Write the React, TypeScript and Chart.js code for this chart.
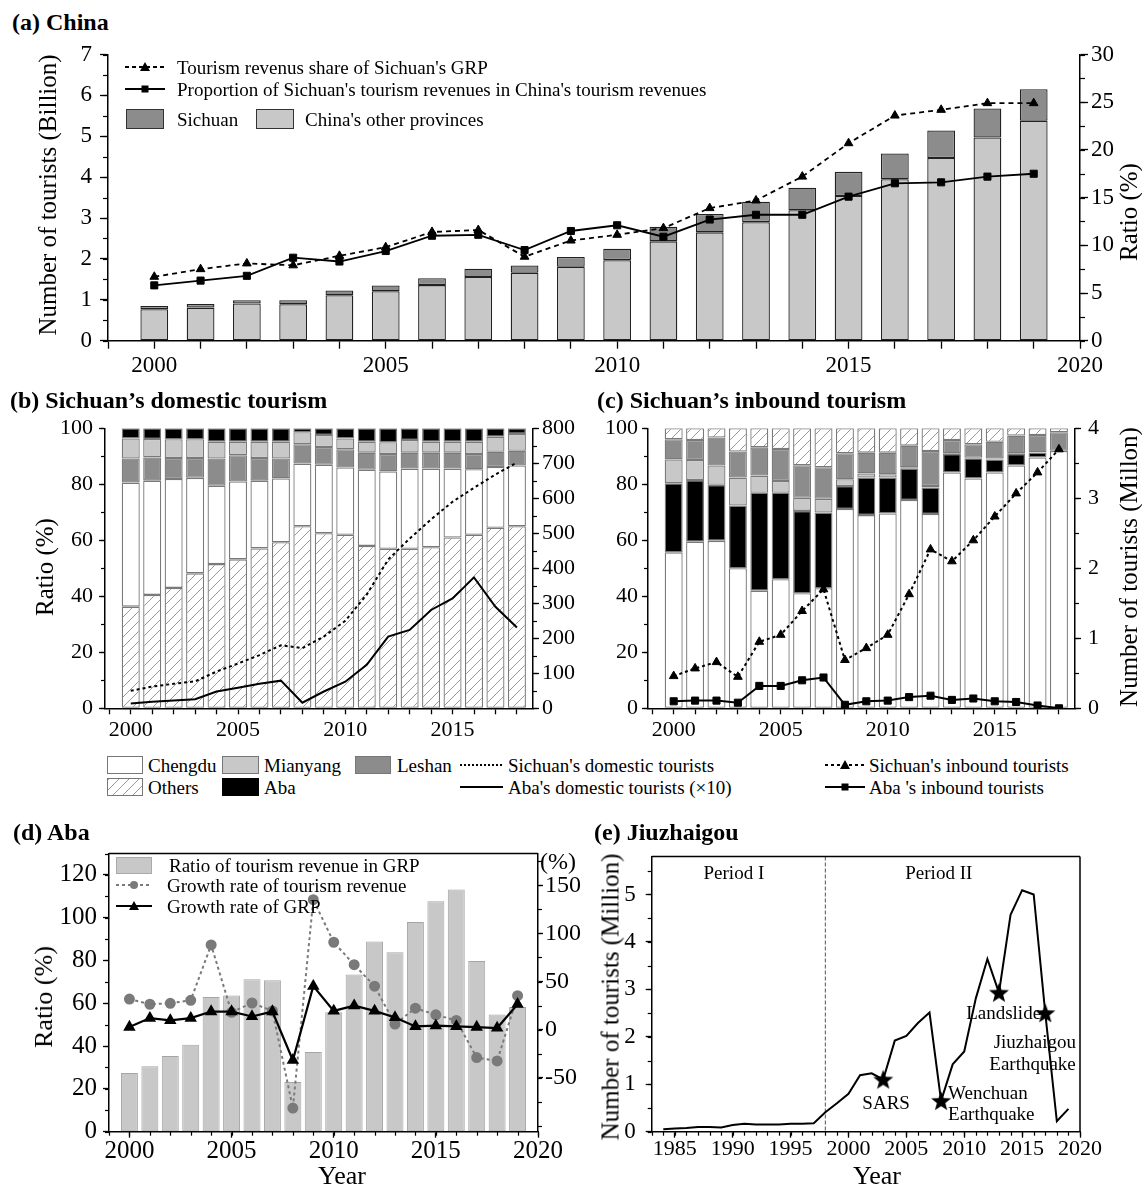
import React, { useEffect, useRef } from 'react';
import { Chart, registerables } from 'chart.js';

Chart.register(...registerables);

const FONT = "'Liberation Serif', 'Times New Roman', Times, serif";

// ---------------- (a) China ----------------
const yearsA = [2000, 2001, 2002, 2003, 2004, 2005, 2006, 2007, 2008, 2009, 2010, 2011, 2012, 2013, 2014, 2015, 2016, 2017, 2018, 2019];
const otherProvincesTourists = [0.77, 0.81, 0.91, 0.89, 1.11, 1.21, 1.36, 1.56, 1.66, 1.81, 1.97, 2.43, 2.65, 2.9, 3.19, 3.54, 3.95, 4.47, 4.97, 5.38];
const sichuanTourists = [0.08, 0.09, 0.08, 0.1, 0.12, 0.14, 0.17, 0.2, 0.18, 0.24, 0.28, 0.36, 0.45, 0.5, 0.55, 0.59, 0.63, 0.67, 0.71, 0.77];
const revenueShareOfGRP = [6.7, 7.5, 8.1, 7.9, 8.9, 9.8, 11.4, 11.6, 8.8, 10.5, 11.1, 11.8, 13.9, 14.7, 17.2, 20.7, 23.6, 24.2, 24.9, 24.9];
const shareOfChinaRevenue = [5.8, 6.3, 6.8, 8.7, 8.3, 9.4, 11.0, 11.1, 9.5, 11.5, 12.1, 10.9, 12.7, 13.2, 13.2, 15.1, 16.5, 16.6, 17.2, 17.5];

// ---------------- (b) Sichuan's domestic tourism ----------------
const yearsBC = [2000, 2001, 2002, 2003, 2004, 2005, 2006, 2007, 2008, 2009, 2010, 2011, 2012, 2013, 2014, 2015, 2016, 2017, 2018];
const domOthers = [36.3, 40.5, 43.0, 48.2, 51.5, 53.2, 57.1, 59.3, 65.0, 62.5, 62.0, 58.0, 57.0, 57.0, 57.5, 61.0, 62.0, 64.5, 65.0];
const domChengdu = [44.3, 40.8, 38.9, 34.1, 28.0, 27.8, 24.2, 22.8, 22.4, 24.5, 24.0, 27.2, 27.6, 28.6, 28.1, 24.6, 23.4, 21.7, 21.7];
const domLeshan = [8.6, 8.3, 7.5, 7.1, 9.7, 9.4, 8.1, 7.1, 6.9, 6.3, 6.5, 6.1, 6.2, 5.7, 5.7, 5.7, 5.4, 5.4, 5.3];
const domMianyang = [7.2, 6.6, 6.7, 6.7, 6.0, 4.8, 5.8, 6.0, 4.3, 4.3, 3.9, 3.9, 4.2, 4.5, 3.9, 3.9, 4.4, 5.4, 6.0];
const domAba = [3.6, 3.8, 3.9, 3.9, 4.8, 4.8, 4.8, 4.8, 1.4, 2.4, 3.6, 4.8, 5.0, 4.2, 4.8, 4.8, 4.8, 3.0, 2.0];
const sichuanDomesticTourists = [50, 62, 70, 77, 105, 128, 152, 180, 172, 205, 250, 325, 425, 485, 540, 590, 630, 668, 702];
const abaDomesticTouristsX10 = [14, 19, 22, 26, 48, 59, 70, 79, 16, 48, 76, 124, 205, 224, 281, 314, 374, 290, 231];

// ---------------- (c) Sichuan's inbound tourism ----------------
const inbChengdu = [55.7, 59.5, 59.8, 50.0, 42.0, 46.1, 41.1, 42.9, 71.2, 69.0, 69.6, 74.4, 69.4, 84.2, 82.1, 84.2, 86.7, 89.6, 91.9];
const inbAba = [24.7, 22.0, 20.0, 22.4, 35.0, 30.9, 29.4, 27.0, 8.2, 13.4, 12.8, 11.3, 9.5, 6.6, 7.2, 4.7, 4.1, 1.7, 0.1];
const inbMianyang = [8.5, 7.2, 6.9, 10.0, 6.1, 4.2, 4.7, 4.9, 2.4, 1.5, 1.2, 0.4, 0.5, 0.3, 0.2, 0.3, 0.3, 0.1, 0];
const inbLeshan = [7.2, 7.1, 10.0, 9.3, 10.1, 11.4, 11.6, 11.3, 9.3, 7.4, 7.7, 7.7, 12.5, 4.7, 4.8, 6.0, 6.3, 6.2, 6.6];
const inbOthers = [3.9, 4.2, 3.3, 8.3, 6.8, 7.4, 13.2, 13.9, 8.9, 8.7, 8.7, 6.2, 8.1, 4.2, 5.7, 4.8, 2.6, 2.4, 1.4];
const sichuanInboundTourists = [0.46, 0.57, 0.66, 0.45, 0.95, 1.05, 1.39, 1.7, 0.69, 0.86, 1.05, 1.63, 2.27, 2.1, 2.4, 2.74, 3.07, 3.37, 3.7];
const abaInboundTourists = [0.1, 0.11, 0.11, 0.08, 0.32, 0.32, 0.4, 0.44, 0.05, 0.1, 0.11, 0.16, 0.18, 0.12, 0.14, 0.1, 0.09, 0.04, 0.0];

// ---------------- (d) Aba ----------------
const yearsD = [2000, 2001, 2002, 2003, 2004, 2005, 2006, 2007, 2008, 2009, 2010, 2011, 2012, 2013, 2014, 2015, 2016, 2017, 2018, 2019];
const abaRevenueRatioGRP = [27.4, 30.6, 35.4, 40.6, 62.9, 63.7, 71.2, 70.8, 23.2, 37.2, 55.8, 73.5, 88.9, 83.8, 98.0, 107.7, 113.2, 79.8, 54.8, 58.3];
const abaRevenueGrowth = [31.8, 26.4, 27.4, 30.5, 88, 18, 27.7, 19.5, -81.5, 135, 90.8, 67.5, 45.2, 5.8, 22.3, 15.4, 9.6, -29, -32.5, 35.3];
const abaGRPGrowth = [2.7, 12, 9.6, 12, 18.8, 18.8, 13.7, 18.8, -31.8, 45.2, 19.5, 25, 19.5, 12.7, 3.4, 4.1, 3.4, 2.7, 1.7, 26.4];

// ---------------- (e) Jiuzhaigou ----------------
const yearsE = [1984, 1985, 1986, 1987, 1988, 1989, 1990, 1991, 1992, 1993, 1994, 1995, 1996, 1997, 1998, 1999, 2000, 2001, 2002, 2003, 2004, 2005, 2006, 2007, 2008, 2009, 2010, 2011, 2012, 2013, 2014, 2015, 2016, 2017, 2018, 2019];
const jiuzhaigouTourists = [0.05, 0.07, 0.08, 0.1, 0.1, 0.09, 0.14, 0.17, 0.15, 0.15, 0.15, 0.17, 0.17, 0.18, 0.41, 0.6, 0.8, 1.19, 1.23, 1.1, 1.92, 2.02, 2.29, 2.51, 0.65, 1.42, 1.69, 2.81, 3.64, 2.93, 4.57, 5.09, 5.0, 2.5, 0.22, 0.48];
const eventYears = [2003, 2008, 2013, 2017];
const periodSplitYear = 1998;
const jiuzhaigouNotes = [
  { text: 'Period I', x: 1990.1, y: 5.44, align: 'center' },
  { text: 'Period II', x: 2007.8, y: 5.44, align: 'center' },
  { text: 'SARS', x: 2003.25, y: 0.58, align: 'center' },
  { text: 'Wenchuan', x: 2008.6, y: 0.8, align: 'left' },
  { text: 'Earthquake', x: 2008.6, y: 0.36, align: 'left' },
  { text: 'Landslide', x: 2013.4, y: 2.47, align: 'center' },
  { text: 'Jiuzhaigou', x: 2016.1, y: 1.87, align: 'center' },
  { text: 'Earthquake', x: 2015.9, y: 1.4, align: 'center' },
];

// ---------------- helpers ----------------
const pts = (xs: number[], ys: number[]) => xs.map((x, i) => ({ x, y: ys[i] }));

const stepTicks = (step: number, from?: number, to?: number) => (scale: any) => {
  const out: any[] = [];
  const start = from !== undefined ? from : Math.ceil(scale.min / step - 1e-6) * step;
  const end = to !== undefined ? to : scale.max;
  for (let v = start; v <= end + 1e-6; v += step) out.push({ value: Math.round(v * 1e4) / 1e4 });
  scale.ticks = out;
};
const every = (n: number) => (v: any) => {
  const r = v / n;
  return Math.abs(r - Math.round(r)) < 1e-6 ? String(Math.round(v * 1000) / 1000) : '';
};
const fixedW = (w: number) => (s: any) => { s.width = w; };
const fixedH = (h: number) => (s: any) => { s.height = h; };
const axisBorder = { display: true, color: '#000', width: 1.5 };
const tickGrid = (len: number) => ({
  display: true, drawOnChartArea: false, drawTicks: true, tickLength: len,
  color: '#000', tickColor: '#000', tickWidth: 1.3, offset: false,
});
const tickFont = (size: number) => ({ family: FONT, size, lineHeight: 1 });

const baseOptions = (padding: any) => ({
  animation: false,
  responsive: false,
  maintainAspectRatio: false,
  devicePixelRatio: 1,
  events: [],
  layout: { padding },
});
const basePlugins = { legend: { display: false }, tooltip: { enabled: false } };

// minor tick marks drawn through the scales
const minorTicksPlugin = {
  id: 'minorTicks',
  afterDraw(chart: any, _a: any, opts: any) {
    const ctx = chart.ctx;
    Object.keys(opts || {}).forEach((id) => {
      const cfg = opts[id];
      const s = chart.scales[id];
      if (!s || !cfg || !cfg.step) return;
      ctx.save();
      ctx.strokeStyle = '#000';
      ctx.lineWidth = 1.2;
      const start = Math.ceil(s.min / cfg.step - 1e-6) * cfg.step;
      for (let v = start; v <= s.max + 1e-6; v += cfg.step) {
        const p = Math.round(s.getPixelForValue(v)) + 0.5;
        ctx.beginPath();
        if (s.isHorizontal()) {
          ctx.moveTo(p, s.top);
          ctx.lineTo(p, s.top + cfg.len);
        } else if (s.position === 'left') {
          ctx.moveTo(s.right, p);
          ctx.lineTo(s.right - cfg.len, p);
        } else {
          ctx.moveTo(s.left, p);
          ctx.lineTo(s.left + cfg.len, p);
        }
        ctx.stroke();
      }
      ctx.restore();
    });
  },
};

const framePlugin = {
  id: 'frame',
  afterDraw(chart: any, _a: any, opts: any) {
    if (!opts || (!opts.top && !opts.right)) return;
    const { ctx, chartArea } = chart;
    ctx.save();
    ctx.strokeStyle = '#000';
    ctx.lineWidth = 1.5;
    ctx.beginPath();
    if (opts.top) {
      ctx.moveTo(chartArea.left, chartArea.top);
      ctx.lineTo(chartArea.right, chartArea.top);
    }
    if (opts.right) {
      ctx.moveTo(chartArea.right, chartArea.top);
      ctx.lineTo(chartArea.right, chartArea.bottom);
    }
    ctx.stroke();
    ctx.restore();
  },
};

const notesPlugin = {
  id: 'notes',
  beforeDatasetsDraw(chart: any, _a: any, opts: any) {
    if (!opts) return;
    const { ctx, chartArea, scales } = chart;
    const xs = scales.x;
    const ys = scales.y;
    ctx.save();
    (opts.vlines || []).forEach((v: any) => {
      const px = xs.getPixelForValue(v.x);
      ctx.strokeStyle = v.color;
      ctx.lineWidth = v.width;
      ctx.setLineDash(v.dash);
      ctx.beginPath();
      ctx.moveTo(px, chartArea.top);
      ctx.lineTo(px, chartArea.bottom);
      ctx.stroke();
    });
    ctx.setLineDash([]);
    (opts.texts || []).forEach((t: any) => {
      ctx.font = `${opts.size}px ${FONT}`;
      ctx.fillStyle = '#000';
      ctx.textAlign = t.align;
      ctx.textBaseline = 'middle';
      ctx.fillText(t.text, xs.getPixelForValue(t.x), ys.getPixelForValue(t.y));
    });
    ctx.restore();
  },
};

function makeHatch(): any {
  const c = document.createElement('canvas');
  c.width = 10;
  c.height = 10;
  const g = c.getContext('2d')!;
  g.fillStyle = '#fff';
  g.fillRect(0, 0, 10, 10);
  g.strokeStyle = '#9a9a9a';
  g.lineWidth = 1;
  g.beginPath();
  g.moveTo(0, 10); g.lineTo(10, 0);
  g.moveTo(-5, 5); g.lineTo(5, -5);
  g.moveTo(5, 15); g.lineTo(15, 5);
  g.stroke();
  return g.createPattern(c, 'repeat');
}

function makeStar(size: number): HTMLCanvasElement {
  const c = document.createElement('canvas');
  c.width = size;
  c.height = size;
  const g = c.getContext('2d')!;
  const cx = size / 2, cy = size / 2 + 0.8, R = size / 2 - 0.5, r = R * 0.42;
  g.fillStyle = '#000';
  g.beginPath();
  for (let i = 0; i < 10; i++) {
    const rad = i % 2 === 0 ? R : r;
    const ang = -Math.PI / 2 + (i * Math.PI) / 5;
    const px = cx + rad * Math.cos(ang);
    const py = cy + rad * Math.sin(ang);
    if (i === 0) g.moveTo(px, py); else g.lineTo(px, py);
  }
  g.closePath();
  g.fill();
  return c;
}

// ---------------- configs ----------------
function configA(): any {
  const bar = (vals: number[], color: string) => ({
    type: 'bar', data: pts(yearsA, vals), yAxisID: 'y', backgroundColor: color,
    borderColor: '#222', borderWidth: 1.3, borderSkipped: false, barPercentage: 0.6, categoryPercentage: 1,
  });
  return {
    type: 'bar',
    data: {
      datasets: [
        { type: 'line', data: pts(yearsA, revenueShareOfGRP), yAxisID: 'y2', borderColor: '#000', borderWidth: 1.8, borderDash: [5, 4], pointStyle: 'triangle', pointRadius: 5, pointBackgroundColor: '#000', pointBorderColor: '#000', pointBorderWidth: 1, tension: 0 },
        { type: 'line', data: pts(yearsA, shareOfChinaRevenue), yAxisID: 'y2', borderColor: '#000', borderWidth: 1.8, pointStyle: 'rect', pointRadius: 5, pointBackgroundColor: '#000', pointBorderColor: '#000', pointBorderWidth: 1, tension: 0 },
        bar(otherProvincesTourists, '#c8c8c8'),
        bar(sichuanTourists, '#8c8c8c'),
      ],
    },
    options: {
      ...baseOptions({ top: 19.3, left: 0, right: 0, bottom: 0 }),
      plugins: { ...basePlugins, minorTicks: { y: { step: 0.5, len: 5 }, y2: { step: 2.5, len: 5 } } },
      scales: {
        x: { type: 'linear', min: 1999, max: 2020, offset: false, stacked: true, afterBuildTicks: stepTicks(1), ticks: { font: tickFont(23), padding: 6, maxRotation: 0, autoSkip: false, callback: every(5) }, grid: tickGrid(8), border: axisBorder, afterFit: fixedH(39.3) },
        y: { type: 'linear', position: 'left', min: 0, max: 7, stacked: true, afterBuildTicks: stepTicks(1), ticks: { font: tickFont(23), padding: 8, callback: every(1) }, grid: tickGrid(8), border: axisBorder, afterFit: fixedW(108) },
        y2: { type: 'linear', position: 'right', min: 0, max: 30, afterBuildTicks: stepTicks(5), ticks: { font: tickFont(23), padding: 3, callback: every(5) }, grid: tickGrid(8), border: axisBorder, afterFit: fixedW(62) },
      },
    },
    plugins: [minorTicksPlugin],
  };
}

function stackedBar(vals: number[], color: any) {
  return {
    type: 'bar', data: pts(yearsBC, vals), yAxisID: 'y', backgroundColor: color,
    borderColor: '#7a7a7a', borderWidth: 1.3, borderSkipped: false, barPercentage: 0.84, categoryPercentage: 1,
  };
}

function bcScales(rightMax: number, rightStep: number, leftW: number, rightW: number, leftPad: number, rightPad: number): any {
  return {
    x: { type: 'linear', min: 1998.8, max: 2018.75, offset: false, stacked: true, afterBuildTicks: stepTicks(1), ticks: { font: tickFont(22), padding: 5, maxRotation: 0, autoSkip: false, callback: every(5) }, grid: tickGrid(6), border: axisBorder, afterFit: fixedH(41.7) },
    y: { type: 'linear', position: 'left', min: 0, max: 100, stacked: true, afterBuildTicks: stepTicks(20), ticks: { font: tickFont(22), padding: leftPad, callback: every(20) }, grid: tickGrid(6), border: axisBorder, afterFit: fixedW(leftW) },
    y2: { type: 'linear', position: 'right', min: 0, max: rightMax, afterBuildTicks: stepTicks(rightStep), ticks: { font: tickFont(22), padding: rightPad, callback: every(rightStep) }, grid: tickGrid(6), border: axisBorder, afterFit: fixedW(rightW) },
  };
}

function configB(hatch: any): any {
  return {
    type: 'bar',
    data: {
      datasets: [
        { type: 'line', data: pts(yearsBC, sichuanDomesticTourists), yAxisID: 'y2', borderColor: '#000', borderWidth: 2, borderDash: [3, 3], pointRadius: 0, tension: 0 },
        { type: 'line', data: pts(yearsBC, abaDomesticTouristsX10), yAxisID: 'y2', borderColor: '#000', borderWidth: 2, pointRadius: 0, tension: 0 },
        stackedBar(domOthers, hatch),
        stackedBar(domChengdu, '#ffffff'),
        stackedBar(domLeshan, '#8c8c8c'),
        stackedBar(domMianyang, '#c8c8c8'),
        stackedBar(domAba, '#000000'),
      ],
    },
    options: {
      ...baseOptions({ top: 18.3, left: 0, right: 0, bottom: 0 }),
      plugins: { ...basePlugins, minorTicks: { y: { step: 10, len: 4 }, y2: { step: 50, len: 4 } } },
      scales: bcScales(800, 100, 105, 57, 6, 3),
    },
    plugins: [minorTicksPlugin],
  };
}

function configC(hatch: any): any {
  return {
    type: 'bar',
    data: {
      datasets: [
        { type: 'line', data: pts(yearsBC, sichuanInboundTourists), yAxisID: 'y2', borderColor: '#000', borderWidth: 2, borderDash: [3, 3], pointStyle: 'triangle', pointRadius: 5, pointBackgroundColor: '#000', pointBorderColor: '#000', pointBorderWidth: 1, tension: 0 },
        { type: 'line', data: pts(yearsBC, abaInboundTourists), yAxisID: 'y2', borderColor: '#000', borderWidth: 2, pointStyle: 'rect', pointRadius: 5, pointBackgroundColor: '#000', pointBorderColor: '#000', pointBorderWidth: 1, tension: 0 },
        stackedBar(inbChengdu, '#ffffff'),
        stackedBar(inbAba, '#000000'),
        stackedBar(inbMianyang, '#c8c8c8'),
        stackedBar(inbLeshan, '#8c8c8c'),
        stackedBar(inbOthers, hatch),
      ],
    },
    options: {
      ...baseOptions({ top: 18.3, left: 0, right: 0, bottom: 0 }),
      plugins: { ...basePlugins, minorTicks: { y: { step: 10, len: 4 }, y2: { step: 0.5, len: 4 } } },
      scales: bcScales(4, 1, 58, 67, 4, 7),
    },
    plugins: [minorTicksPlugin],
  };
}

function configD(): any {
  return {
    type: 'bar',
    data: {
      datasets: [
        { type: 'line', data: pts(yearsD, abaGRPGrowth), yAxisID: 'y2', borderColor: '#000', borderWidth: 2.2, pointStyle: 'triangle', pointRadius: 5, pointBackgroundColor: '#000', pointBorderColor: '#000', tension: 0 },
        { type: 'line', data: pts(yearsD, abaRevenueGrowth), yAxisID: 'y2', borderColor: '#7a7a7a', borderWidth: 2, borderDash: [3, 3], pointStyle: 'circle', pointRadius: 4.5, pointBackgroundColor: '#7a7a7a', pointBorderColor: '#7a7a7a', tension: 0 },
        { type: 'bar', data: pts(yearsD, abaRevenueRatioGRP), yAxisID: 'y', backgroundColor: '#c8c8c8', borderColor: '#a5a5a5', borderWidth: 1, borderSkipped: false, barPercentage: 0.83, categoryPercentage: 1 },
      ],
    },
    options: {
      ...baseOptions({ top: 15, left: 0, right: 0, bottom: 0 }),
      plugins: { ...basePlugins, frame: { top: true }, minorTicks: { x: { step: 1, len: 4 }, y: { step: 10, len: 4 }, y2: { step: 25, len: 4 } } },
      scales: {
        x: { type: 'linear', min: 1999, max: 2020, offset: false, afterBuildTicks: stepTicks(5), ticks: { font: tickFont(25), padding: 1, maxRotation: 0, autoSkip: false, callback: every(5) }, grid: tickGrid(6), border: axisBorder, afterFit: fixedH(59.3) },
        y: { type: 'linear', position: 'left', min: 0, max: 130, afterBuildTicks: stepTicks(20, 0, 120), ticks: { font: tickFont(25), padding: 6, callback: every(20) }, grid: tickGrid(6), border: axisBorder, afterFit: fixedW(109) },
        y2: { type: 'linear', position: 'right', min: -106, max: 183, afterBuildTicks: stepTicks(50, -50, 150), ticks: { font: tickFont(24), padding: 2, callback: every(50) }, grid: tickGrid(5), border: axisBorder, afterFit: fixedW(62) },
      },
    },
    plugins: [minorTicksPlugin, framePlugin],
  };
}

function configE(star: HTMLCanvasElement): any {
  const isEvent = (ctx: any) => !!(ctx && ctx.raw && eventYears.indexOf(ctx.raw.x) >= 0);
  return {
    type: 'line',
    data: {
      datasets: [
        {
          data: pts(yearsE, jiuzhaigouTourists), borderColor: '#000', borderWidth: 2, tension: 0,
          pointStyle: (ctx: any) => (isEvent(ctx) ? star : 'circle'),
          pointRadius: (ctx: any) => (isEvent(ctx) ? 10 : 0),
        },
      ],
    },
    options: {
      ...baseOptions({ top: 15, left: 0, right: 62, bottom: 0 }),
      plugins: {
        ...basePlugins,
        frame: { top: true, right: true },
        minorTicks: { x: { step: 1, len: 4 }, y: { step: 0.5, len: 4 } },
        notes: { size: 19, texts: jiuzhaigouNotes, vlines: [{ x: periodSplitYear, color: '#555', width: 1, dash: [4, 2] }] },
      },
      scales: {
        x: { type: 'linear', min: 1983, max: 2020, offset: false, afterBuildTicks: stepTicks(5), ticks: { font: tickFont(22), padding: 1, maxRotation: 0, autoSkip: false, callback: every(5) }, grid: tickGrid(6), border: axisBorder, afterFit: fixedH(59.3) },
        y: { type: 'linear', position: 'left', min: 0, max: 5.8, afterBuildTicks: stepTicks(1, 0, 5), ticks: { font: tickFont(23), padding: 10, callback: every(1) }, grid: tickGrid(6), border: axisBorder, afterFit: fixedW(71.7) },
      },
    },
    plugins: [minorTicksPlugin, framePlugin, notesPlugin],
  };
}

// ---------------- HTML pieces (titles, axis titles, legends) ----------------
type TProps = { x: number; y: number; size: number; bold?: boolean; align?: 'left' | 'center'; rotate?: boolean; children: any };
const T = ({ x, y, size, bold, align = 'left', rotate, children }: TProps) => (
  <div
    style={{
      position: 'absolute', left: x, top: y, fontSize: size, fontWeight: bold ? 700 : 400, lineHeight: 1,
      whiteSpace: 'nowrap', color: '#000',
      transform: rotate ? 'translate(-50%,-50%) rotate(-90deg)' : align === 'center' ? 'translate(-50%,-50%)' : 'translate(0,-50%)',
    }}
  >
    {children}
  </div>
);

const Box = ({ x, y, w, h, fill, stroke }: any) => (
  <div style={{ position: 'absolute', left: x, top: y, width: w, height: h, background: fill, border: `1px solid ${stroke}`, boxSizing: 'border-box' }} />
);

const HATCH_CSS = 'repeating-linear-gradient(-45deg, #ffffff 0px, #ffffff 6px, #9a9a9a 6px, #9a9a9a 7px)';

const LineKey = ({ x1, x2, y, dash, color = '#000', width = 2, marker }: any) => {
  const w = x2 - x1 + 10;
  const mx = w / 2;
  const my = 8;
  return (
    <svg style={{ position: 'absolute', left: x1 - 5, top: y - 8, overflow: 'visible' }} width={w} height={16}>
      <line x1={5} x2={w - 5} y1={my} y2={my} stroke={color} strokeWidth={width} strokeDasharray={dash} />
      {marker === 'triangle' && <polygon points={`${mx},${my - 5} ${mx - 5},${my + 4} ${mx + 5},${my + 4}`} fill={color} />}
      {marker === 'square' && <rect x={mx - 3.5} y={my - 3.5} width={7} height={7} fill={color} />}
      {marker === 'circle' && <circle cx={mx} cy={my} r={4} fill={color} />}
    </svg>
  );
};

export default function App() {
  const aRef = useRef<HTMLCanvasElement>(null);
  const bRef = useRef<HTMLCanvasElement>(null);
  const cRef = useRef<HTMLCanvasElement>(null);
  const dRef = useRef<HTMLCanvasElement>(null);
  const eRef = useRef<HTMLCanvasElement>(null);

  useEffect(() => {
    Chart.defaults.font.family = FONT;
    Chart.defaults.color = '#000';
    const hatch = makeHatch();
    const star = makeStar(22);
    const charts = [
      new Chart(aRef.current!, configA()),
      new Chart(bRef.current!, configB(hatch)),
      new Chart(cRef.current!, configC(hatch)),
      new Chart(dRef.current!, configD()),
      new Chart(eRef.current!, configE(star)),
    ];
    return () => charts.forEach((c) => c.destroy());
  }, []);

  const cv = (left: number, top: number) => ({ position: 'absolute' as const, left, top });

  return (
    <div style={{ position: 'absolute', left: 0, top: 0, width: 1142, height: 1191, background: '#fff', fontFamily: FONT, color: '#000', overflow: 'hidden' }}>
      <canvas ref={aRef} width={1142} height={345} style={cv(0, 35)} />
      <canvas ref={bRef} width={590} height={340} style={cv(0, 410)} />
      <canvas ref={cRef} width={552} height={340} style={cv(590, 410)} />
      <canvas ref={dRef} width={600} height={356} style={cv(0, 835)} />
      <canvas ref={eRef} width={562} height={356} style={cv(580, 835)} />

      {/* (a) */}
      <T x={12} y={22} size={24} bold>(a) China</T>
      <T x={47} y={195} size={25} rotate>Number of tourists (Billion)</T>
      <T x={1128} y={212} size={25} rotate>Ratio (%)</T>
      <LineKey x1={125} x2={165} y={67} dash="4,3" width={1.8} marker="triangle" />
      <T x={177} y={67} size={19}>Tourism revenus share of Sichuan's GRP</T>
      <LineKey x1={125} x2={165} y={89} width={1.8} marker="square" />
      <T x={177} y={89} size={19}>Proportion of Sichuan's tourism revenues in China's tourism revenues</T>
      <Box x={126} y={109} w={38} h={20} fill="#8c8c8c" stroke="#333" />
      <T x={177} y={119} size={19}>Sichuan</T>
      <Box x={256} y={109} w={38} h={20} fill="#c8c8c8" stroke="#333" />
      <T x={305} y={119} size={19}>China's other provinces</T>

      {/* (b) & (c) */}
      <T x={10} y={400} size={24} bold>(b) Sichuan’s domestic tourism</T>
      <T x={597} y={400} size={24} bold>(c) Sichuan’s inbound tourism</T>
      <T x={44} y={567} size={25} rotate>Ratio (%)</T>
      <T x={1128} y={567} size={25} rotate>Number of tourists (Millon)</T>

      {/* shared legend */}
      <Box x={107} y={756} w={36} h={18} fill="#ffffff" stroke="#777" />
      <T x={148} y={765} size={19}>Chengdu</T>
      <Box x={222} y={756} w={37} h={18} fill="#c8c8c8" stroke="#777" />
      <T x={264} y={765} size={19}>Mianyang</T>
      <Box x={355} y={756} w={36} h={18} fill="#8c8c8c" stroke="#777" />
      <T x={397} y={765} size={19}>Leshan</T>
      <LineKey x1={460} x2={503} y={765} dash="2,2" width={2} />
      <T x={508} y={765} size={19}>Sichuan's domestic tourists</T>
      <LineKey x1={825} x2={865} y={765} dash="3,3" width={1.8} marker="triangle" />
      <T x={869} y={765} size={19}>Sichuan's inbound tourists</T>

      <div style={{ position: 'absolute', left: 107, top: 778, width: 36, height: 18, background: HATCH_CSS, border: '1px solid #777', boxSizing: 'border-box' }} />
      <T x={148} y={787} size={19}>Others</T>
      <Box x={222} y={778} w={37} h={18} fill="#000" stroke="#000" />
      <T x={264} y={787} size={19}>Aba</T>
      <LineKey x1={460} x2={503} y={787} width={2.2} />
      <T x={508} y={787} size={19}>Aba's domestic tourists (×10)</T>
      <LineKey x1={825} x2={865} y={787} width={2.2} marker="square" />
      <T x={869} y={787} size={19}>Aba 's inbound tourists</T>

      {/* (d) */}
      <T x={13} y={832} size={24} bold>(d) Aba</T>
      <T x={44} y={997} size={26} rotate>Ratio (%)</T>
      <T x={342} y={1176} size={26} align="center">Year</T>
      <T x={558} y={861} size={24} align="center">(%)</T>
      <Box x={116} y={857} w={36} h={17} fill="#c8c8c8" stroke="#aaa" />
      <T x={169} y={865} size={19}>Ratio of tourism revenue in GRP</T>
      <LineKey x1={116} x2={152} y={885} dash="3,3" color="#7a7a7a" width={2} marker="circle" />
      <T x={167} y={885} size={19}>Growth rate of tourism revenue</T>
      <LineKey x1={116} x2={152} y={906} width={2.2} marker="triangle" />
      <T x={167} y={906} size={19}>Growth rate of GRP</T>

      {/* (e) */}
      <T x={594} y={832} size={24} bold>(e) Jiuzhaigou</T>
      <T x={610} y={997} size={25} rotate>Number of tourists (Million)</T>
      <T x={877} y={1176} size={26} align="center">Year</T>
    </div>
  );
}
